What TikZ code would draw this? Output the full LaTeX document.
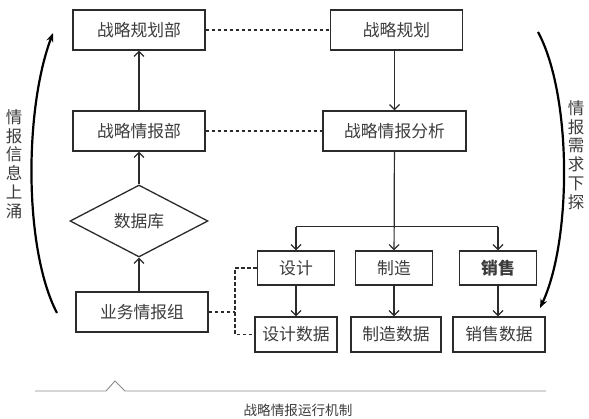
\documentclass[tikz,border=0pt]{standalone}
\usepackage{fontspec}
\setmainfont{Noto Sans CJK SC}
\usetikzlibrary{arrows.meta,positioning,shapes.geometric,calc}
\definecolor{mechInk}{HTML}{2B2B2B}
\definecolor{mechText}{HTML}{3C3C3C}
\definecolor{mechMuted}{HTML}{8A8A8A}
\tikzset{
  mech/base/.style={draw=mechInk, line width=1.3pt, fill=white,
    align=center, text=mechText, font=\fontsize{16.8}{19}\selectfont,
    inner sep=0pt},
  mech/unit/.style={mech/base, minimum width=132pt, minimum height=40pt},
  mech/wide/.style={mech/base, minimum width=143pt, minimum height=40pt},
  mech/task/.style={mech/base, minimum width=77pt, minimum height=34pt},
  mech/data/.style={mech/base, minimum height=35pt},
  mech/store/.style={mech/base, diamond, minimum width=138pt,
    minimum height=72pt},
  mech/arrow/.style={-{Straight Barb[length=5pt,width=10pt]}, draw=mechInk,
    line width=1.2pt},
  mech/line/.style={draw=mechInk, line width=1.2pt},
  mech/dashed/.style={draw=mechInk, line width=1.1pt,
    dash pattern=on 3.5pt off 2.5pt},
  mech/bend/.style={-{Stealth[length=9pt,width=7pt]}, draw=black,
    line width=2.2pt},
  mech/side/.style={align=center, text=mechText,
    font=\fontsize{16.5}{18.7}\selectfont},
  mech/caption/.style={text=mechText, font=\fontsize{13.6}{15}\selectfont},
}

\begin{document}
\begin{tikzpicture}[x=1pt, y=-1pt]
\useasboundingbox (0,0) rectangle (589,419);

% left column: upward reporting chain
\node[mech/unit] (plan)  at (139,30)  {战略规划部};
\node[mech/unit] (intel) at (139,131) {战略情报部};
\node[mech/store] (base) at (139,221) {数据库};
\node[mech/unit] (group) at (142,312) {业务情报组};

% right column: planning and analysis
\node[mech/unit] (strat) at (396.5,30)  {战略规划};
\node[mech/wide] (anal)  at (394.5,131) {战略情报分析};

\node[mech/task] (design) at (296,268) {设计};
\node[mech/task] (make)   at (394,268) {制造};
\node[mech/task] (sale)   at (498,268) {\bfseries 销售};
\node[mech/data, minimum width=82pt] (designD) at (296,334.5) {设计数据};
\node[mech/data, minimum width=90pt] (makeD)   at (396,334.5) {制造数据};
\node[mech/data, minimum width=92pt] (saleD)   at (499,334.5) {销售数据};

\draw[mech/arrow] (intel) -- (plan);
\draw[mech/arrow] (base.north) -- (intel);
\draw[mech/arrow] (group.north -| base.south) -- (base.south);
\draw[mech/arrow] (strat.south -| anal.south) -- (anal);

% branch bus below the analysis box
\coordinate (bus) at ($(anal.south)!0.76!(make.north)$);
\draw[mech/arrow] (anal) -- (make);
\draw[mech/line] (bus -| design.north) -- (bus -| sale.north);
\draw[mech/arrow] (bus -| design.north) -- (design);
\draw[mech/arrow] (bus -| sale.north) -- (sale);
\draw[mech/arrow] (design) -- (designD);
\draw[mech/arrow] (make) -- (make.south |- makeD.north);
\draw[mech/arrow] (sale) -- (sale.south |- saleD.north);

% dashed links
\draw[mech/dashed] (plan) -- (strat);
\draw[mech/dashed] (intel) -- (anal);
\coordinate (tap) at (235,312);
\draw[mech/dashed] (group.east) -- (tap);
\draw[mech/dashed] (design.west) -- (design.west -| tap)
  -- (designD.west -| tap) -- (designD.west);

% curved flow arrows
\coordinate (upFrom) at (57,313);
\coordinate (upTo)   at (53,33);
\draw[mech/bend] (upFrom) .. controls (24,250) and (24,110) .. (upTo);
\node[mech/side] (upText) at (14,164) {情\\报\\信\\息\\上\\涌};
\coordinate (downFrom) at (538,32);
\coordinate (downTo)   at (540,308);
\draw[mech/bend] (downFrom) .. controls (572,95) and (572,240) .. (downTo);
\node[mech/side] (downText) at (576,155) {情\\报\\需\\求\\下\\探};

% caption rule
\draw[mechMuted, line width=0.9pt] (35,391) -- (106,391) -- (115,381)
  -- (125,391) -- (546,391);
\node[mech/caption] (cap) at (298,410) {战略情报运行机制};
\end{tikzpicture}
\end{document}
